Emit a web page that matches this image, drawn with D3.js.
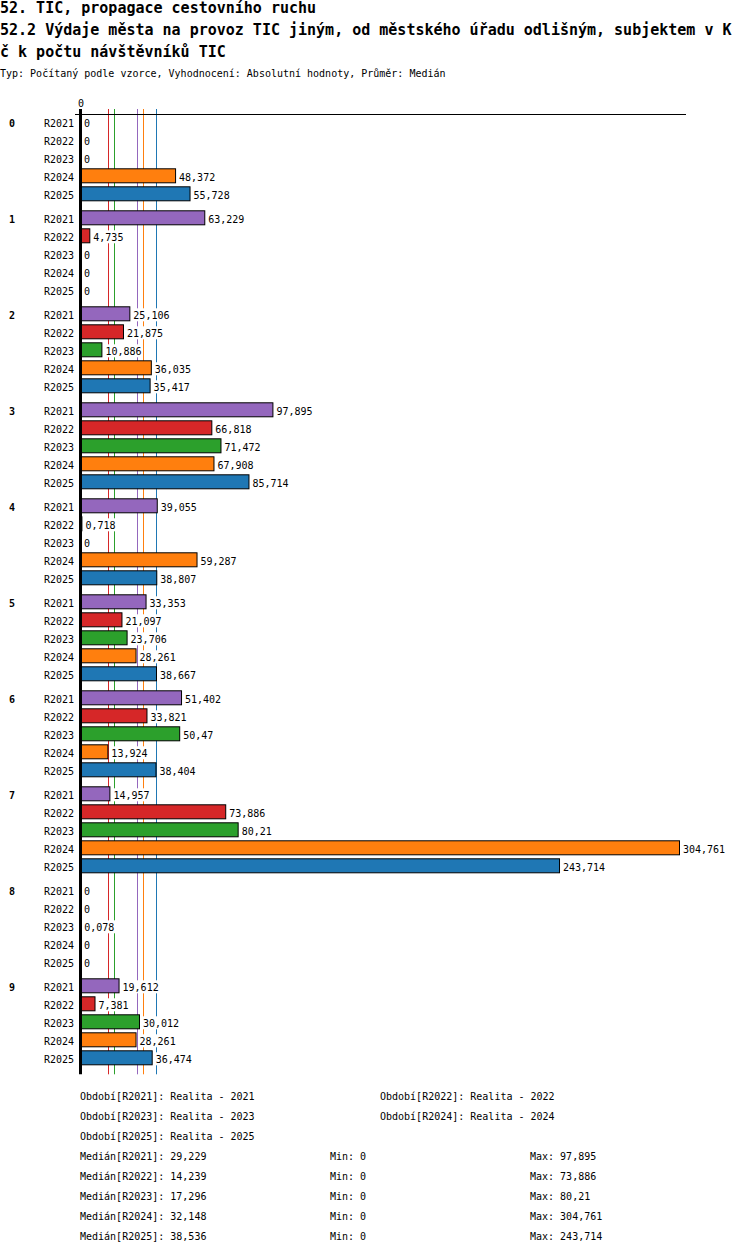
<!DOCTYPE html>
<html>
<head>
<meta charset="utf-8">
<script src="https://cdn.jsdelivr.net/npm/d3@7"></script>
<style>
    body { margin: 0; background: #fff; }
    svg text { font-family: "DejaVu Sans Mono", "Liberation Mono", monospace; fill: #000; }
</style>
</head>
<body>
<div id="chart"></div>
<script>
// ---- data -------------------------------------------------------------------
var titleLines = [
    "52. TIC, propagace cestovního ruchu",
    "52.2 Výdaje města na provoz TIC jiným, od městského úřadu odlišným, subjektem v K",
    "č k počtu návštěvníků TIC"
];
var subtitle = "Typ: Počítaný podle vzorce, Vyhodnocení: Absolutní hodnoty, Průměr: Medián";

var groups = ["0", "1", "2", "3", "4", "5", "6", "7", "8", "9"];
var periods = ["R2021", "R2022", "R2023", "R2024", "R2025"];
var periodNames = ["Realita - 2021", "Realita - 2022", "Realita - 2023", "Realita - 2024", "Realita - 2025"];
var colors = ["#9467bd", "#d62728", "#2ca02c", "#ff7f0e", "#1f77b4"];

var valR2021 = [0, 63.229, 25.106, 97.895, 39.055, 33.353, 51.402, 14.957, 0, 19.612];
var valR2022 = [0, 4.735, 21.875, 66.818, 0.718, 21.097, 33.821, 73.886, 0, 7.381];
var valR2023 = [0, 0, 10.886, 71.472, 0, 23.706, 50.47, 80.21, 0.078, 30.012];
var valR2024 = [48.372, 0, 36.035, 67.908, 59.287, 28.261, 13.924, 304.761, 0, 28.261];
var valR2025 = [55.728, 0, 35.417, 85.714, 38.807, 38.667, 38.404, 243.714, 0, 36.474];
var series = [valR2021, valR2022, valR2023, valR2024, valR2025];

var medians = [29.229, 14.239, 17.296, 32.148, 38.536];

// ---- setup ------------------------------------------------------------------
(function()
{
    "use strict";

    var W = 750, H = 1254;
    var top = 114.3, groupStep = 96;

    var svg = d3.select("#chart").append("svg")
                .attr("width", W)
                .attr("height", H);

    // czech style numbers: decimal comma, trailing zeros trimmed
    var fmt = function(v) { return d3.format(".3~f")(v).replace(".", ","); };

    var rows = [];
    groups.forEach(function(g, gi) {
        periods.forEach(function(p, pi) {
            rows.push({ group: g, period: p, pi: pi, value: series[pi][gi] });
        });
    });

    var xScale = d3.scaleLinear()
                   .domain([0, d3.max(rows, function(d) { return d.value; })])
                   .range([80.5, 679.5]);

    var yGroup = d3.scaleBand()
                   .domain(groups)
                   .range([top, top + groupStep * groups.length]);

    var yRow = d3.scaleBand()
                 .domain(periods)
                 .range([0, 87])
                 .paddingInner(1 / 6);

    var rowTop = function(d) { return yGroup(d.group) + yRow(d.period); };
    var x0 = xScale(0);
    var yEnd = yGroup.range()[1];

    // ---- titles -------------------------------------------------------------
    svg.selectAll("text.title")
        .data(titleLines)
        .enter().append("text")
            .attr("class", "title")
            .attr("x", 0)
            .attr("y", function(d, i) { return 13 + i * 22; })
            .style("font-size", "15px")
            .style("font-weight", "bold")
            .text(function(d) { return d; });

    svg.append("text")
        .attr("x", 0)
        .attr("y", 77)
        .style("font-size", "10px")
        .text(subtitle);

    // ---- median lines (behind bars) -----------------------------------------
    svg.selectAll("line.median")
        .data(medians)
        .enter().append("line")
            .attr("class", "median")
            .attr("x1", function(d) { return Math.floor(xScale(d)) + 0.5; })
            .attr("x2", function(d) { return Math.floor(xScale(d)) + 0.5; })
            .attr("y1", 109)
            .attr("y2", yEnd)
            .attr("stroke", function(d, i) { return colors[i]; })
            .attr("stroke-width", 1);

    // ---- bars ---------------------------------------------------------------
    svg.selectAll("rect.bar")
        .data(rows.filter(function(d) { return d.value > 0; }))
        .enter().append("rect")
            .attr("class", "bar")
            .attr("x", x0)
            .attr("y", function(d) { return rowTop(d) + 0.5; })
            .attr("width", function(d) { return xScale(d.value) - x0; })
            .attr("height", yRow.bandwidth() - 1)
            .attr("fill", function(d) { return colors[d.pi]; })
            .attr("stroke", "#000")
            .attr("stroke-width", 1);

    // ---- value labels with white backing ------------------------------------
    var vl = svg.selectAll("g.vlabel")
        .data(rows)
        .enter().append("g")
            .attr("class", "vlabel");

    vl.append("text")
        .attr("x", function(d) { return xScale(d.value) + 3.5; })
        .attr("y", function(d) { return rowTop(d) + 12.5; })
        .style("font-size", "10px")
        .text(function(d) { return fmt(d.value); });

    vl.insert("rect", "text")
        .attr("x", function(d) { return xScale(d.value) + 2.5; })
        .attr("y", function(d) { return rowTop(d) + 2; })
        .attr("width", function() { return this.parentNode.querySelector("text").getComputedTextLength() + 2; })
        .attr("height", 13)
        .attr("fill", "#fff");

    // ---- row and group labels -----------------------------------------------
    svg.selectAll("text.rowlabel")
        .data(rows)
        .enter().append("text")
            .attr("class", "rowlabel")
            .attr("x", x0 - 6.5)
            .attr("y", function(d) { return rowTop(d) + 12.5; })
            .attr("text-anchor", "end")
            .style("font-size", "10px")
            .text(function(d) { return d.period; });

    svg.selectAll("text.grouplabel")
        .data(groups)
        .enter().append("text")
            .attr("class", "grouplabel")
            .attr("x", 9)
            .attr("y", function(d) { return yGroup(d) + yRow(periods[0]) + 12.5; })
            .style("font-size", "10px")
            .style("font-weight", "bold")
            .text(function(d) { return d; });

    // ---- axis ---------------------------------------------------------------
    var xAxis = d3.axisTop(xScale).tickValues([0]).tickSize(5).tickFormat(fmt);

    var ax = svg.append("g")
        .attr("transform", "translate(0, 114.5)")
        .call(xAxis);
    ax.select(".domain").remove();
    ax.selectAll(".tick line").remove();
    ax.selectAll(".tick text")
        .style("font-family", "DejaVu Sans Mono, monospace")
        .style("font-size", "10px")
        .attr("fill", "#000");

    svg.append("line")
        .attr("x1", x0 - 5.5)
        .attr("x2", xScale.range()[1] + 6.5)
        .attr("y1", 114.5)
        .attr("y2", 114.5)
        .attr("stroke", "#000")
        .attr("stroke-width", 1);

    svg.append("line")
        .attr("x1", x0)
        .attr("x2", x0)
        .attr("y1", 109)
        .attr("y2", yEnd)
        .attr("stroke", "#000")
        .attr("stroke-width", 3);

    // ---- legend -------------------------------------------------------------
    svg.selectAll("text.period")
        .data(periods)
        .enter().append("text")
            .attr("class", "period")
            .attr("x", function(d, i) { return i % 2 ? 380 : 80; })
            .attr("y", function(d, i) { return 1100 + Math.floor(i / 2) * 20; })
            .style("font-size", "10px")
            .text(function(d, i) { return "Období[" + d + "]: " + periodNames[i]; });

    var stats = periods.map(function(p, i) {
        return { period: p, median: medians[i], min: d3.min(series[i]), max: d3.max(series[i]) };
    });

    var sg = svg.selectAll("g.stat")
        .data(stats)
        .enter().append("g")
            .attr("class", "stat")
            .attr("transform", function(d, i) { return "translate(0," + (1160 + i * 20) + ")"; });

    sg.append("text").attr("x", 80).style("font-size", "10px")
        .text(function(d) { return "Medián[" + d.period + "]: " + fmt(d.median); });
    sg.append("text").attr("x", 330).style("font-size", "10px")
        .text(function(d) { return "Min: " + fmt(d.min); });
    sg.append("text").attr("x", 530).style("font-size", "10px")
        .text(function(d) { return "Max: " + fmt(d.max); });
}
)();
</script>
</body>
</html>
